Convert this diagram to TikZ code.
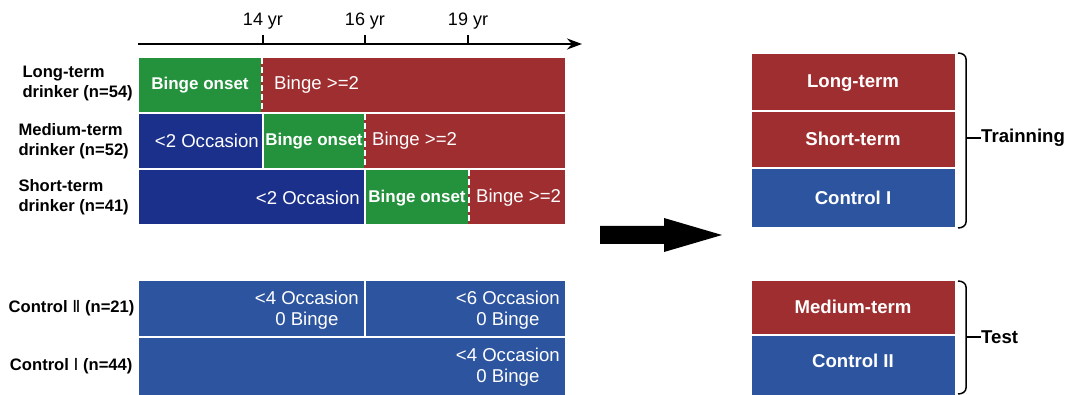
\documentclass[tikz,border=0pt]{standalone}
\usepackage{fontspec}
\setmainfont{Liberation Sans}
\newfontfamily\numfont{DejaVu Sans}
\usetikzlibrary{arrows.meta}
\definecolor{bingered}{RGB}{158,46,48}
\definecolor{onsetgreen}{RGB}{36,146,60}
\definecolor{navyblue}{RGB}{26,48,138}
\definecolor{ctrlblue}{RGB}{45,84,158}

\begin{document}
\begin{tikzpicture}[x=1pt, y=-1pt,
    seg/.style={draw=white, line width=1.2pt},
    onsetend/.style={white, line width=1.5pt, dash pattern=on 6pt off 3pt},
    lab/.style={font=\fontsize{16.6}{20}\selectfont\bfseries, align=left},
    txt/.style={text=white, font=\fontsize{18.6}{20.5}\selectfont, inner sep=0pt},
    onset/.style={text=white, font=\fontsize{17}{20}\selectfont\bfseries, inner sep=0pt},
    boxlab/.style={font=\fontsize{18.6}{20}\selectfont\bfseries, inner sep=0pt}]
    \useasboundingbox (0,0) rectangle (1075,395);
    % time axis
    \draw[line width=1.8pt, -{Stealth[length=15pt, width=11pt]}] (138,44) -- (582,44);
    \foreach \x/\yr in {263/14, 365/16, 468/19} {
        \draw[line width=1.5pt] (\x,35) -- (\x,44);
        \node[font=\fontsize{18}{20}\selectfont] (yr\yr) at (\x,21) {\yr{} yr};
    }
    % drinker groups
    \filldraw[seg, fill=onsetgreen] (138,57) rectangle (262,113);
    \filldraw[seg, fill=bingered] (262,57) rectangle (566,113);
    \filldraw[seg, fill=navyblue] (138,113) rectangle (263,169);
    \filldraw[seg, fill=onsetgreen] (263,113) rectangle (365,169);
    \filldraw[seg, fill=bingered] (365,113) rectangle (566,169);
    \filldraw[seg, fill=navyblue] (138,169) rectangle (365,225);
    \filldraw[seg, fill=onsetgreen] (365,169) rectangle (469,225);
    \filldraw[seg, fill=bingered] (469,169) rectangle (566,225);
    \foreach \x/\ya/\yb in {262/58/112, 365/114/168, 469/170/224} {
        \draw[bingered, line width=1.6pt] (\x,\ya) -- (\x,\yb);
        \draw[onsetend] (\x,\ya) -- (\x,\yb);
    }
    \node[onset] (lt-onset) at (200,85) {Binge onset};
    \node[txt, anchor=west] (lt-binge) at (274,85) {Binge >=2};
    \node[txt, anchor=east] (md-occ) at (259,141) {<2 Occasion};
    \node[onset] (md-onset) at (314,141) {Binge onset};
    \node[txt, anchor=west] (md-binge) at (372,141) {Binge >=2};
    \node[txt, anchor=east] (st-occ) at (360,198) {<2 Occasion};
    \node[onset] (st-onset) at (417,198) {Binge onset};
    \node[txt, anchor=west] (st-binge) at (476,198) {Binge >=2};
    \node[lab, anchor=west] (lt-lab) at (19,84) {Long-term\\drinker (n=54)};
    \node[lab, anchor=west] (md-lab) at (15,141) {Medium-term\\drinker (n=52)};
    \node[lab, anchor=west] (st-lab) at (15,197) {Short-term\\drinker (n=41)};
    % control groups
    \filldraw[seg, fill=ctrlblue] (138,280) rectangle (365,337);
    \filldraw[seg, fill=ctrlblue] (365,280) rectangle (566,337);
    \filldraw[seg, fill=ctrlblue] (138,337) rectangle (566,398);
    \node[txt, anchor=east, align=center] (c2-early) at (359,310) {<4 Occasion\\0 Binge};
    \node[txt, anchor=east, align=center] (c2-late) at (560,310) {<6 Occasion\\0 Binge};
    \node[txt, anchor=east, align=center] (c1-all) at (560,367) {<4 Occasion\\0 Binge};
    \node[lab, anchor=east] (c2-lab) at (138,308) {Control {\mdseries\numfont Ⅱ} (n=21)};
    \node[lab, anchor=east] (c1-lab) at (136,366) {Control {\mdseries\numfont Ⅰ} (n=44)};
    % arrow
    \fill (600,226) -- (664,226) -- (664,218) -- (722,235) -- (664,252) -- (664,244) -- (600,244) -- cycle;
    % training / test sets
    \filldraw[seg, fill=bingered] (751,53) rectangle (956,111);
    \filldraw[seg, fill=bingered] (751,111) rectangle (956,168);
    \filldraw[seg, fill=ctrlblue] (751,168) rectangle (956,228);
    \filldraw[seg, fill=bingered] (751,280) rectangle (956,335);
    \filldraw[seg, fill=ctrlblue] (751,335) rectangle (956,398);
    \node[boxlab, text=white] (r-long) at (853,83) {Long-term};
    \node[boxlab, text=white] (r-short) at (853,139) {Short-term};
    \node[boxlab, text=white] (r-ctrl1) at (853,198) {Control I};
    \node[boxlab, text=white] (r-med) at (853,307) {Medium-term};
    \node[boxlab, text=white] (r-ctrl2) at (853,361) {Control II};
    \node[boxlab, anchor=west] (train) at (981,138) {Trainning};
    \node[boxlab, anchor=west] (test) at (981,337) {Test};
    \draw[line width=1.5pt] (958,53) to[out=0, in=90] (966,59) -- (966,222) to[out=-90, in=0] (958,228);
    \draw[line width=1.5pt] (966,138) -- (train.west);
    \draw[line width=1.5pt] (958,281) to[out=0, in=90] (966,287) -- (966,388) to[out=-90, in=0] (958,394);
    \draw[line width=1.5pt] (966,337) -- (test.west);
\end{tikzpicture}
\end{document}
